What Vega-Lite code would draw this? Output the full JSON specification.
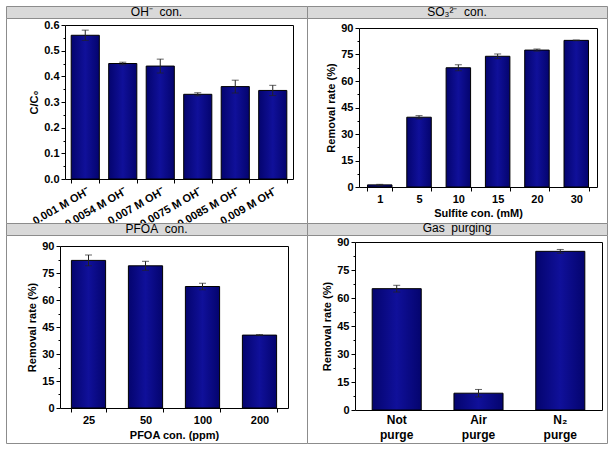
{
  "$schema": "https://vega.github.io/schema/vega-lite/v6.json",
  "spacing": 0,
  "bounds": "flush",
  "columns": 2,
  "config": {
    "axis": {
      "labelFont": "Liberation Sans", "labelFontWeight": "bold", "labelFontSize": 11, "labelColor": "black",
      "titleFont": "Liberation Sans", "titleFontWeight": "bold", "titleFontSize": 11, "titleColor": "black",
      "domainColor": "black", "tickColor": "black", "grid": false, "tickSize": 4
    }
  },
  "concat": [
    {"width": 301, "height": 12, "view": {"fill": "#d9d9d9", "stroke": "#8c8c8c"}, "data": {"values": [{}]},
     "mark": {"type": "text", "text": "OH⁻\u00a0 con.", "font": "Liberation Sans", "fontSize": 12, "color": "black", "baseline": "middle"}, "encoding": {}},
    {"width": 300, "height": 12, "view": {"fill": "#d9d9d9", "stroke": "#8c8c8c"}, "data": {"values": [{}]},
     "mark": {"type": "text", "text": "SO₃²⁻\u00a0 con.", "font": "Liberation Sans", "fontSize": 12, "color": "black", "baseline": "middle"}, "encoding": {}},
    {
      "width": 301, "height": 205, "view": {"fill": "white", "stroke": "#8c8c8c"},
      "data": {"values": [
        {"c": "0.001 M OH⁻", "v": 0.56, "lo": 0.54, "hi": 0.58},
        {"c": "0.0054 M OH⁻", "v": 0.45, "lo": 0.445, "hi": 0.455},
        {"c": "0.007 M OH⁻", "v": 0.44, "lo": 0.413, "hi": 0.467},
        {"c": "0.0075 M OH⁻", "v": 0.33, "lo": 0.324, "hi": 0.336},
        {"c": "0.0085 M OH⁻", "v": 0.36, "lo": 0.335, "hi": 0.385},
        {"c": "0.009 M OH⁻", "v": 0.345, "lo": 0.325, "hi": 0.365}
      ]},
      "resolve": {"axis": {"x": "independent", "y": "independent"}},
      "layer": [
        {"mark": {"type": "bar", "stroke": "black", "strokeWidth": 1, "color": {"gradient": "linear", "x1": 0, "x2": 1, "y1": 0, "y2": 0, "stops": [{"offset": 0, "color": "#04046e"}, {"offset": 0.5, "color": "#10109a"}, {"offset": 1, "color": "#04046e"}]}},
         "encoding": {
           "x": {"field": "c", "type": "nominal", "sort": null, "scale": {"type": "band", "range": [59, 287], "paddingInner": 0.25, "paddingOuter": 0.165},
                 "axis": {"orient": "bottom", "offset": -44, "title": null, "labelAngle": -30, "tickBand": "extent"}},
           "y": {"field": "v", "type": "quantitative", "scale": {"domain": [0, 0.6], "range": [161, 7], "nice": false},
                 "axis": {"orient": "left", "offset": -59, "title": "C/C₀", "values": [0, 0.1, 0.2, 0.3, 0.4, 0.5, 0.6], "format": ".1f"}}
         }},
        {"mark": {"type": "rule", "color": "#222"},
         "encoding": {
           "x": {"field": "c", "type": "nominal", "sort": null, "scale": {"type": "band", "range": [59, 287], "paddingInner": 0.25, "paddingOuter": 0.165},
                 "axis": {"orient": "top", "offset": -7, "title": null, "labels": false, "ticks": false}},
           "y": {"field": "lo", "type": "quantitative", "scale": {"domain": [0, 0.6], "range": [161, 7], "nice": false},
                 "axis": {"orient": "right", "offset": -14, "title": null, "labels": false, "ticks": false}},
           "y2": {"field": "hi"}
         }},
        {"mark": {"type": "tick", "color": "#222", "size": 7, "thickness": 1},
         "encoding": {
           "x": {"field": "c", "type": "nominal", "sort": null, "scale": {"type": "band", "range": [59, 287], "paddingInner": 0.25, "paddingOuter": 0.165}, "axis": null},
           "y": {"field": "hi", "type": "quantitative", "scale": {"domain": [0, 0.6], "range": [161, 7], "nice": false},
                 "axis": {"orient": "left", "offset": -59, "title": null, "labels": false, "domain": false, "tickSize": 2, "values": [0.05, 0.15, 0.25, 0.35, 0.45, 0.55]}}
         }},
        {"mark": {"type": "tick", "color": "#222", "size": 7, "thickness": 1},
         "encoding": {
           "x": {"field": "c", "type": "nominal", "sort": null, "scale": {"type": "band", "range": [59, 287], "paddingInner": 0.25, "paddingOuter": 0.165}, "axis": null},
           "y": {"field": "lo", "type": "quantitative", "scale": {"domain": [0, 0.6], "range": [161, 7], "nice": false}, "axis": null}
         }}
      ]
    },
    {
      "width": 300, "height": 205, "view": {"fill": "white", "stroke": "#8c8c8c"},
      "data": {"values": [
        {"c": "1", "v": 1.2, "lo": 0.9, "hi": 1.5},
        {"c": "5", "v": 39.5, "lo": 38.6, "hi": 40.4},
        {"c": "10", "v": 67.5, "lo": 65.8, "hi": 69.2},
        {"c": "15", "v": 74, "lo": 72.7, "hi": 75.3},
        {"c": "20", "v": 77.5, "lo": 76.9, "hi": 78.1},
        {"c": "30", "v": 83, "lo": 82.8, "hi": 83.2}
      ]},
      "resolve": {"axis": {"x": "independent", "y": "independent"}},
      "layer": [
        {"mark": {"type": "bar", "stroke": "black", "strokeWidth": 1, "color": {"gradient": "linear", "x1": 0, "x2": 1, "y1": 0, "y2": 0, "stops": [{"offset": 0, "color": "#04046e"}, {"offset": 0.5, "color": "#10109a"}, {"offset": 1, "color": "#04046e"}]}},
         "encoding": {
           "x": {"field": "c", "type": "nominal", "sort": null, "scale": {"type": "band", "range": [52, 290], "paddingInner": 0.377, "paddingOuter": 0.216},
                 "axis": {"orient": "bottom", "offset": -36, "title": "Sulfite con. (mM)", "labelAngle": 0, "tickBand": "extent", "titlePadding": 3}},
           "y": {"field": "v", "type": "quantitative", "scale": {"domain": [0, 90], "range": [169, 10], "nice": false},
                 "axis": {"orient": "left", "offset": -52, "title": "Removal rate (%)", "values": [0, 15, 30, 45, 60, 75, 90]}}
         }},
        {"mark": {"type": "rule", "color": "#222"},
         "encoding": {
           "x": {"field": "c", "type": "nominal", "sort": null, "scale": {"type": "band", "range": [52, 290], "paddingInner": 0.377, "paddingOuter": 0.216},
                 "axis": {"orient": "top", "offset": -10, "title": null, "labels": false, "ticks": false}},
           "y": {"field": "lo", "type": "quantitative", "scale": {"domain": [0, 90], "range": [169, 10], "nice": false},
                 "axis": {"orient": "right", "offset": -10, "title": null, "labels": false, "ticks": false}},
           "y2": {"field": "hi"}
         }},
        {"mark": {"type": "tick", "color": "#222", "size": 7, "thickness": 1},
         "encoding": {
           "x": {"field": "c", "type": "nominal", "sort": null, "scale": {"type": "band", "range": [52, 290], "paddingInner": 0.377, "paddingOuter": 0.216}, "axis": null},
           "y": {"field": "hi", "type": "quantitative", "scale": {"domain": [0, 90], "range": [169, 10], "nice": false},
                 "axis": {"orient": "left", "offset": -52, "title": null, "labels": false, "domain": false, "tickSize": 2, "values": [7.5, 22.5, 37.5, 52.5, 67.5, 82.5]}}
         }},
        {"mark": {"type": "tick", "color": "#222", "size": 7, "thickness": 1},
         "encoding": {
           "x": {"field": "c", "type": "nominal", "sort": null, "scale": {"type": "band", "range": [52, 290], "paddingInner": 0.377, "paddingOuter": 0.216}, "axis": null},
           "y": {"field": "lo", "type": "quantitative", "scale": {"domain": [0, 90], "range": [169, 10], "nice": false}, "axis": null}
         }}
      ]
    },
    {"width": 301, "height": 12, "view": {"fill": "#d9d9d9", "stroke": "#8c8c8c"}, "data": {"values": [{}]},
     "mark": {"type": "text", "text": "PFOA\u00a0 con.", "font": "Liberation Sans", "fontSize": 12, "color": "black", "baseline": "middle"}, "encoding": {}},
    {"width": 300, "height": 12, "view": {"fill": "#d9d9d9", "stroke": "#8c8c8c"}, "data": {"values": [{}]},
     "mark": {"type": "text", "text": "Gas\u00a0 purging", "font": "Liberation Sans", "fontSize": 12, "color": "black", "baseline": "middle", "dy": -1}, "encoding": {}},
    {
      "width": 301, "height": 208, "view": {"fill": "white", "stroke": "#8c8c8c"},
      "data": {"values": [
        {"c": "25", "v": 82, "lo": 79, "hi": 85},
        {"c": "50", "v": 79, "lo": 76.5, "hi": 81.5},
        {"c": "100", "v": 67.5, "lo": 65.7, "hi": 69.3},
        {"c": "200", "v": 40.5, "lo": 40.2, "hi": 40.8}
      ]},
      "resolve": {"axis": {"x": "independent", "y": "independent"}},
      "layer": [
        {"mark": {"type": "bar", "stroke": "black", "strokeWidth": 1, "color": {"gradient": "linear", "x1": 0, "x2": 1, "y1": 0, "y2": 0, "stops": [{"offset": 0, "color": "#04046e"}, {"offset": 0.5, "color": "#10109a"}, {"offset": 1, "color": "#04046e"}]}},
         "encoding": {
           "x": {"field": "c", "type": "nominal", "sort": null, "scale": {"type": "band", "range": [54, 282], "paddingInner": 0.4, "paddingOuter": 0.2},
                 "axis": {"orient": "bottom", "offset": -35, "title": "PFOA con. (ppm)", "labelAngle": 0, "tickBand": "extent", "titlePadding": 4}},
           "y": {"field": "v", "type": "quantitative", "scale": {"domain": [0, 90], "range": [173, 11], "nice": false},
                 "axis": {"orient": "left", "offset": -54, "title": "Removal rate (%)", "values": [0, 15, 30, 45, 60, 75, 90]}}
         }},
        {"mark": {"type": "rule", "color": "#222"},
         "encoding": {
           "x": {"field": "c", "type": "nominal", "sort": null, "scale": {"type": "band", "range": [54, 282], "paddingInner": 0.4, "paddingOuter": 0.2},
                 "axis": {"orient": "top", "offset": -11, "title": null, "labels": false, "ticks": false}},
           "y": {"field": "lo", "type": "quantitative", "scale": {"domain": [0, 90], "range": [173, 11], "nice": false},
                 "axis": {"orient": "right", "offset": -19, "title": null, "labels": false, "ticks": false}},
           "y2": {"field": "hi"}
         }},
        {"mark": {"type": "tick", "color": "#222", "size": 7, "thickness": 1},
         "encoding": {
           "x": {"field": "c", "type": "nominal", "sort": null, "scale": {"type": "band", "range": [54, 282], "paddingInner": 0.4, "paddingOuter": 0.2}, "axis": null},
           "y": {"field": "hi", "type": "quantitative", "scale": {"domain": [0, 90], "range": [173, 11], "nice": false},
                 "axis": {"orient": "left", "offset": -54, "title": null, "labels": false, "domain": false, "tickSize": 2, "values": [7.5, 22.5, 37.5, 52.5, 67.5, 82.5]}}
         }},
        {"mark": {"type": "tick", "color": "#222", "size": 7, "thickness": 1},
         "encoding": {
           "x": {"field": "c", "type": "nominal", "sort": null, "scale": {"type": "band", "range": [54, 282], "paddingInner": 0.4, "paddingOuter": 0.2}, "axis": null},
           "y": {"field": "lo", "type": "quantitative", "scale": {"domain": [0, 90], "range": [173, 11], "nice": false}, "axis": null}
         }}
      ]
    },
    {
      "width": 300, "height": 208, "view": {"fill": "white", "stroke": "#8c8c8c"},
      "data": {"values": [
        {"c": "Not purge", "v": 65, "lo": 63.2, "hi": 66.8},
        {"c": "Air purge", "v": 9, "lo": 7, "hi": 11},
        {"c": "N₂ purge", "v": 85, "lo": 84, "hi": 86}
      ]},
      "resolve": {"axis": {"x": "independent", "y": "independent"}},
      "layer": [
        {"mark": {"type": "bar", "stroke": "black", "strokeWidth": 1, "color": {"gradient": "linear", "x1": 0, "x2": 1, "y1": 0, "y2": 0, "stops": [{"offset": 0, "color": "#04046e"}, {"offset": 0.5, "color": "#10109a"}, {"offset": 1, "color": "#04046e"}]}},
         "encoding": {
           "x": {"field": "c", "type": "nominal", "sort": null, "scale": {"type": "band", "range": [48, 295], "paddingInner": 0.4, "paddingOuter": 0.21},
                 "axis": {"orient": "bottom", "offset": -33, "title": null, "labelAngle": 0, "ticks": false, "labelPadding": 4, "labelExpr": "split(datum.label, ' ')", "labelLineHeight": 15, "labelFontSize": 12}},
           "y": {"field": "v", "type": "quantitative", "scale": {"domain": [0, 90], "range": [175, 7], "nice": false},
                 "axis": {"orient": "left", "offset": -48, "title": "Removal rate (%)", "values": [0, 15, 30, 45, 60, 75, 90]}}
         }},
        {"mark": {"type": "rule", "color": "#222"},
         "encoding": {
           "x": {"field": "c", "type": "nominal", "sort": null, "scale": {"type": "band", "range": [48, 295], "paddingInner": 0.4, "paddingOuter": 0.21},
                 "axis": {"orient": "top", "offset": -7, "title": null, "labels": false, "ticks": false}},
           "y": {"field": "lo", "type": "quantitative", "scale": {"domain": [0, 90], "range": [175, 7], "nice": false},
                 "axis": {"orient": "right", "offset": -5, "title": null, "labels": false, "ticks": false}},
           "y2": {"field": "hi"}
         }},
        {"mark": {"type": "tick", "color": "#222", "size": 7, "thickness": 1},
         "encoding": {
           "x": {"field": "c", "type": "nominal", "sort": null, "scale": {"type": "band", "range": [48, 295], "paddingInner": 0.4, "paddingOuter": 0.21}, "axis": null},
           "y": {"field": "hi", "type": "quantitative", "scale": {"domain": [0, 90], "range": [175, 7], "nice": false},
                 "axis": {"orient": "left", "offset": -48, "title": null, "labels": false, "domain": false, "tickSize": 2, "values": [7.5, 22.5, 37.5, 52.5, 67.5, 82.5]}}
         }},
        {"mark": {"type": "tick", "color": "#222", "size": 7, "thickness": 1},
         "encoding": {
           "x": {"field": "c", "type": "nominal", "sort": null, "scale": {"type": "band", "range": [48, 295], "paddingInner": 0.4, "paddingOuter": 0.21}, "axis": null},
           "y": {"field": "lo", "type": "quantitative", "scale": {"domain": [0, 90], "range": [175, 7], "nice": false}, "axis": null}
         }}
      ]
    }
  ]
}
